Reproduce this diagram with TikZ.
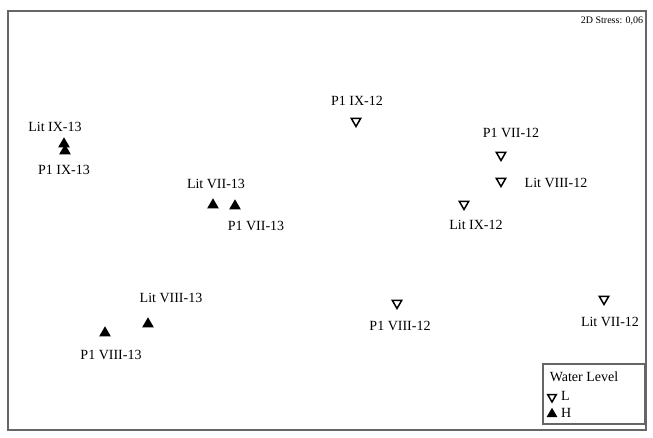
\documentclass[tikz,border=0pt]{standalone}
\usepackage{fontspec}
\setmainfont{Liberation Serif}
\usetikzlibrary{shapes.geometric}
\begin{document}
\begin{tikzpicture}[x=1pt,y=-1pt,
  lo/.style={regular polygon,regular polygon sides=3,shape border rotate=180,draw=black,line width=1.5pt,inner sep=0pt,minimum size=11pt,fill=white},
  hi/.style={regular polygon,regular polygon sides=3,draw=none,fill=black,inner sep=0pt,minimum size=13.5pt},
  lab/.style={inner sep=0pt,font=\fontsize{14}{15}\selectfont},
  frame/.style={draw=black!60,line width=1.5pt}]
\useasboundingbox (0,0) rectangle (653,437);
\draw[frame] (8,11) rectangle (646,430);
\node[inner sep=0pt,font=\fontsize{10}{11}\selectfont] (stress) at (612,21) {2D Stress: 0,06};
% H points
\node[hi] (a1) at (64,144) {};
\node[hi] (a2) at (65,151) {};
\node[lab] (t1) at (55,127) {Lit IX-13};
\node[lab] (t2) at (64,170) {P1 IX-13};
\node[hi] (b1) at (213,205) {};
\node[hi] (b2) at (235,206) {};
\node[lab] (t3) at (216,184) {Lit VII-13};
\node[lab] (t4) at (256,226) {P1 VII-13};
\node[hi] (c1) at (148,324) {};
\node[hi] (c2) at (105,333) {};
\node[lab] (t5) at (171,298) {Lit VIII-13};
\node[lab] (t6) at (111,355) {P1 VIII-13};
% L points
\node[lo] (d1) at (356,121) {};
\node[lab] (t7) at (357,101) {P1 IX-12};
\node[lo] (d2) at (501,155) {};
\node[lab] (t8) at (511,133) {P1 VII-12};
\node[lo] (d3) at (501,181) {};
\node[lab] (t9) at (556,183) {Lit VIII-12};
\node[lo] (d4) at (464,204) {};
\node[lab] (t10) at (476,225) {Lit IX-12};
\node[lo] (d5) at (397,303) {};
\node[lab] (t11) at (400,326) {P1 VIII-12};
\node[lo] (d6) at (604,299) {};
\node[lab] (t12) at (610,322) {Lit VII-12};
% legend
\draw[draw=black!60,line width=1.2pt,fill=white] (543,364) rectangle (645,424);
\node[lab] (lt) at (584,377) {Water Level};
\node[lo,minimum size=10pt] (ls1) at (552,397) {};
\node[lab,anchor=west] (ll) at (561,396) {L};
\node[hi,minimum size=12.5pt] (ls2) at (552,414) {};
\node[lab,anchor=west] (lh) at (561,413) {H};
\end{tikzpicture}
\end{document}
